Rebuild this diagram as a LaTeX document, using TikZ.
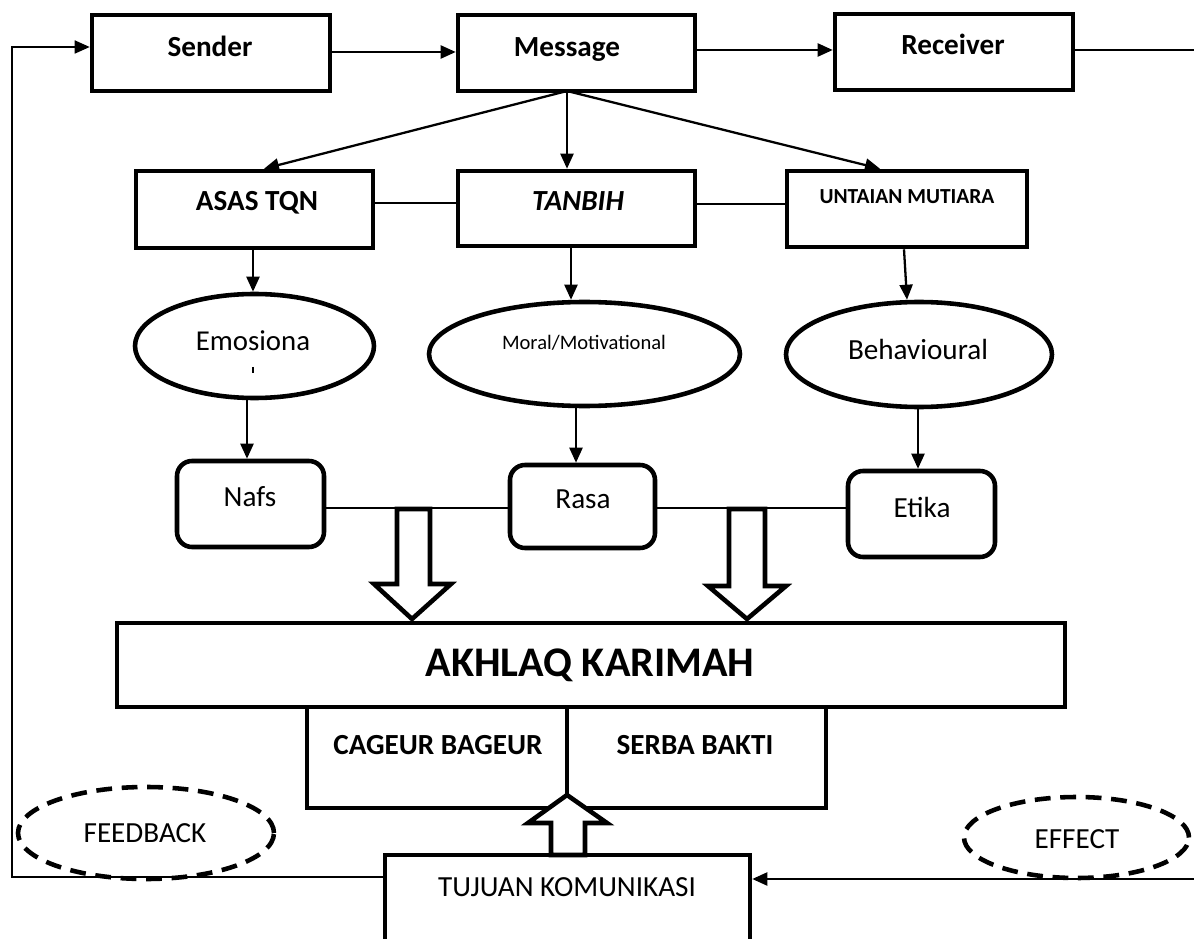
\documentclass[tikz,border=0pt]{standalone}
\usepackage{fontspec}
\setmainfont{Carlito}
\usetikzlibrary{arrows.meta,shapes.geometric}
\begin{document}
\begin{tikzpicture}[x=0.02cm,y=-0.02cm,
  sz/.style 2 args={minimum width=#1*0.02cm, minimum height=#2*0.02cm},
  box/.style={draw, line width=2.6pt, inner sep=0pt},
  rbox/.style={box, rounded corners=0.3cm},
  ell/.style={draw, ellipse, line width=2.6pt, inner sep=0pt},
  dell/.style={ell, dash pattern=on 9pt off 5.5pt},
  conn/.style={line width=1.3pt, -{Triangle[length=0.3cm,width=0.26cm]}},
  link/.style={line width=0.9pt},
  hollow/.style={draw, fill=white, line width=2.6pt, line join=miter},
  lbl/.style={anchor=base, inner sep=0pt, font=\fontsize{16.6}{18}\selectfont},
  blbl/.style={anchor=base, inner sep=0pt, font=\bfseries\fontsize{16.6}{18}\selectfont}]
\useasboundingbox (0,0) rectangle (1194,939);
\fill[white] (0,0) rectangle (1194,939);
\clip (0,0) rectangle (1194,939);

% top row
\node[box, sz={238}{76}] (sender) at (211,53) {};
\node[box, sz={237}{76}] (message) at (576.5,53) {};
\node[box, sz={238}{76}] (receiver) at (954,52) {};
\node[blbl] (sendert) at (210,57) {Sender};
\node[blbl] (messaget) at (567,57) {Message};
\node[blbl] (receivert) at (953,55) {Receiver};

% second row
\node[box, sz={237}{77}] (asas) at (254.5,209.5) {};
\node[box, sz={237}{75}] (tanbih) at (576.5,208.5) {};
\node[box, sz={240}{76}] (untaian) at (907,209) {};
\node[blbl] (asast) at (257,211) {ASAS TQN};
\node[blbl, font=\bfseries\itshape\fontsize{16.6}{18}\selectfont] (tanbiht) at (578,211) {TANBIH};
\node[blbl, font=\bfseries\fontsize{12.2}{14}\selectfont] (untaiant) at (907,204) {UNTAIAN MUTIARA};

% ellipses
\node[ell, sz={239}{104}] (emo) at (254.5,346) {};
\node[ell, sz={311}{104}] (moral) at (584.5,354) {};
\node[ell, sz={266}{105}] (behav) at (919,354.5) {};
\node[lbl, font=\fontsize{16.4}{18}\selectfont] (emot) at (253,351) {Emosiona};
\draw[line width=1.2pt] (253,367) -- (253,373);
\node[lbl, font=\fontsize{11.7}{13}\selectfont] (moralt) at (584,350) {Moral/Motivational};
\node[lbl] (behavt) at (918,359) {Behavioural};

% rounded boxes
\node[rbox, sz={147}{86}] (nafs) at (250.5,504) {};
\node[rbox, sz={145}{83}] (rasa) at (582.5,506.5) {};
\node[rbox, sz={147}{86}] (etika) at (921.5,514) {};
\node[lbl] (nafst) at (250,506) {Nafs};
\node[lbl] (rasat) at (583,508) {Rasa};
\node[lbl] (etikat) at (922,517) {Etika};

% akhlaq
\node[box, sz={948}{84}] (akhlaq) at (591,665) {};
\node[blbl, font=\bfseries\fontsize{24}{27}\selectfont] (akhlaqt) at (590,676) {AKHLAQ KARIMAH};
\node[box, sz={260}{101}] (cageur) at (437,757.5) {};
\node[box, sz={259}{101}] (serba) at (696.5,757.5) {};
\node[blbl] (cageurt) at (438,754) {CAGEUR BAGEUR};
\node[blbl] (serbat) at (695,754) {SERBA BAKTI};

% tujuan
\node[box, sz={365}{110}] (tujuan) at (567.5,910) {};
\node[lbl] (tujuant) at (567,896) {TUJUAN KOMUNIKASI};

% feedback / effect
\coordinate (lb) at (12,877);
\coordinate (lt) at (12,47);
\draw[conn, line width=1pt] (tujuan.west |- lb) -- (lb) -- (lt) -- (sender.west |- lt);
\coordinate (rt) at (1200,50);
\draw[line width=1.3pt] (receiver.east |- rt) -- (rt);
\coordinate (rb) at (1200,879);
\draw[conn] (rb) -- (tujuan.east |- rb);
\node[dell, sz={256}{92}] (feedback) at (146,833) {};
\node[dell, sz={225}{81}] (effect) at (1076.5,837.5) {};
\node[lbl] (feedbackt) at (145,842) {FEEDBACK};
\node[lbl] (effectt) at (1077,848) {EFFECT};

% connectors
\draw[conn] (sender.east |- 0,52) -- (message.west |- 0,52);
\draw[conn] (message.east |- 0,50) -- (receiver.west |- 0,50);
\coordinate (mo) at (567,91);
\draw[conn] (mo) -- (264,0 |- asas.north);
\draw[conn] (mo) -- (567,0 |- tanbih.north);
\draw[conn] (mo) -- (880,0 |- untaian.north);
\draw[link] (asas.east |- 0,203) -- (tanbih.west |- 0,203);
\draw[link] (tanbih.east |- 0,204) -- (untaian.west |- 0,204);
\draw[conn] (253,0 |- asas.south) -- (253,0 |- emo.north);
\draw[conn] (571,0 |- tanbih.south) -- (571,0 |- moral.north);
\draw[conn] (904,0 |- untaian.south) -- (907,0 |- behav.north);
\draw[conn] (247,0 |- emo.south) -- (247,0 |- nafs.north);
\draw[conn] (576,0 |- moral.south) -- (576,0 |- rasa.north);
\draw[conn] (918,0 |- behav.south) -- (918,0 |- etika.north);
\draw[link] (nafs.east |- 0,508) -- (rasa.west |- 0,508);
\draw[link] (rasa.east |- 0,508) -- (etika.west |- 0,508);

% hollow arrows
\draw[hollow] (397,509) -- (430,509) -- (430,584) -- (451,584) -- (412,619) -- (374,584) -- (397,584) -- cycle;
\draw[hollow] (729,509) -- (765,509) -- (765,586) -- (786,586) -- (747,619) -- (708,586) -- (729,586) -- cycle;
\draw[hollow] (567,795) -- (607,823) -- (585,823) -- (585,855) -- (551,855) -- (551,823) -- (528,823) -- cycle;
\end{tikzpicture}
\end{document}
